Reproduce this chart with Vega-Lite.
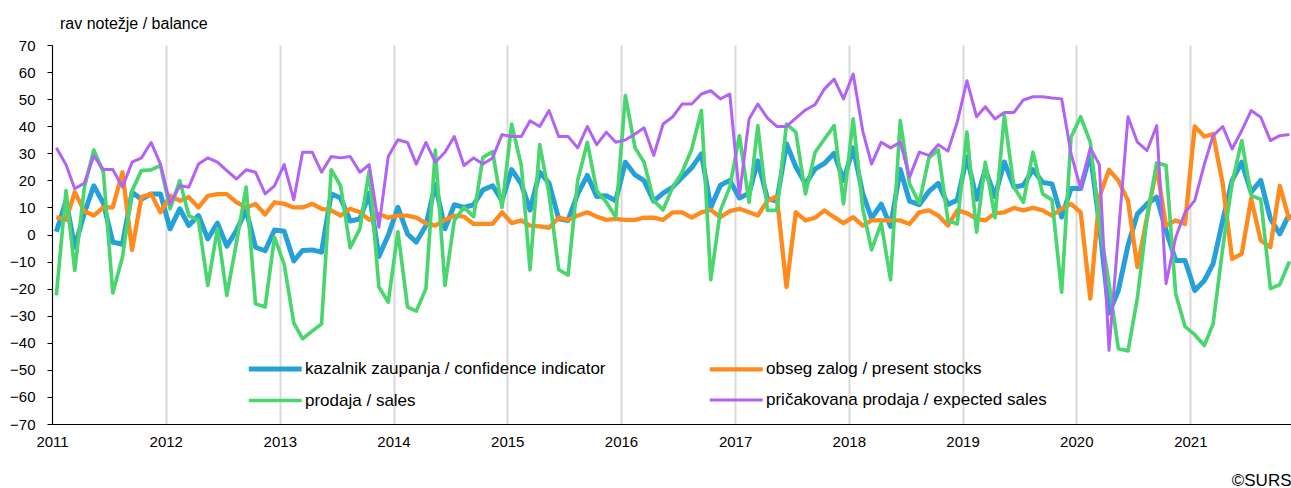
{
  "$schema": "https://vega.github.io/schema/vega-lite/v6.json",
  "width": 1239,
  "height": 379,
  "autosize": {"type": "none"},
  "padding": {"left": 52, "top": 45, "right": 0, "bottom": 64},
  "background": "#ffffff",
  "title": {"text": "rav notežje / balance", "anchor": "start", "frame": "group", "orient": "top", "offset": -7, "dx": 8, "fontSize": 16, "fontWeight": "normal", "font": "Liberation Sans", "color": "#000000", "baseline": "alphabetic"},
  "config": {"view": {"stroke": null}, "font": "Liberation Sans"},
  "data": {"values": [
    {"d":"2011-01-15","b":1,"o":6.4,"g":-22.5,"p":32},
    {"d":"2011-02-15","b":12.5,"o":5.4,"g":16.2,"p":25.8},
    {"d":"2011-03-15","b":-4.7,"o":15.6,"g":-13.3,"p":16.9},
    {"d":"2011-04-15","b":8,"o":8.6,"g":17.5,"p":19},
    {"d":"2011-05-15","b":18,"o":7,"g":31.2,"p":29},
    {"d":"2011-06-15","b":11.5,"o":10,"g":23,"p":24},
    {"d":"2011-07-15","b":-2.8,"o":10,"g":-21.6,"p":24},
    {"d":"2011-08-15","b":-3.6,"o":23,"g":-8.4,"p":17.5},
    {"d":"2011-09-15","b":15.6,"o":-5.7,"g":16.2,"p":26.7},
    {"d":"2011-10-15","b":13,"o":13.8,"g":23.6,"p":28.3},
    {"d":"2011-11-15","b":15,"o":15,"g":23.9,"p":34},
    {"d":"2011-12-15","b":15,"o":8.2,"g":25.5,"p":26},
    {"d":"2012-01-15","b":2.1,"o":14.3,"g":9.5,"p":11.3},
    {"d":"2012-02-15","b":9.5,"o":12.5,"g":19.9,"p":18},
    {"d":"2012-03-15","b":3.3,"o":13.8,"g":7,"p":17.5},
    {"d":"2012-04-15","b":7,"o":10,"g":5.2,"p":26},
    {"d":"2012-05-15","b":-1.6,"o":14.3,"g":-18.8,"p":28.3},
    {"d":"2012-06-15","b":4.2,"o":14.9,"g":2.1,"p":26.7},
    {"d":"2012-07-15","b":-4.3,"o":14.9,"g":-22.5,"p":23.6},
    {"d":"2012-08-15","b":1.5,"o":11.9,"g":-3,"p":20.5},
    {"d":"2012-09-15","b":9,"o":10,"g":17.5,"p":23.9},
    {"d":"2012-10-15","b":-4.7,"o":11.3,"g":-25.6,"p":23},
    {"d":"2012-11-15","b":-6,"o":7.4,"g":-26.8,"p":15},
    {"d":"2012-12-15","b":1.7,"o":11.9,"g":-1,"p":18},
    {"d":"2013-01-15","b":1.2,"o":11.3,"g":-11,"p":25.8},
    {"d":"2013-02-15","b":-9.8,"o":10,"g":-32.7,"p":12.8},
    {"d":"2013-03-15","b":-5.9,"o":10,"g":-38.5,"p":30.4},
    {"d":"2013-04-15","b":-5.7,"o":11.3,"g":-35.7,"p":30.4},
    {"d":"2013-05-15","b":-6.5,"o":9.5,"g":-33,"p":23},
    {"d":"2013-06-15","b":15,"o":8.9,"g":23.9,"p":28.8},
    {"d":"2013-07-15","b":13.5,"o":7,"g":18,"p":28.3},
    {"d":"2013-08-15","b":5,"o":9.5,"g":-4.9,"p":28.8},
    {"d":"2013-09-15","b":5.7,"o":8.2,"g":2.1,"p":23},
    {"d":"2013-10-15","b":15.2,"o":5.4,"g":23.6,"p":25.8},
    {"d":"2013-11-15","b":-8.1,"o":7.6,"g":-19.4,"p":2.7},
    {"d":"2013-12-15","b":-0.3,"o":6.2,"g":-25,"p":28.8},
    {"d":"2014-01-15","b":10,"o":7,"g":1,"p":35},
    {"d":"2014-02-15","b":0.2,"o":7,"g":-26.8,"p":34},
    {"d":"2014-03-15","b":-2.8,"o":6.2,"g":-28.3,"p":26},
    {"d":"2014-04-15","b":3.3,"o":4.2,"g":-20,"p":34},
    {"d":"2014-05-15","b":18.5,"o":3.3,"g":31.2,"p":26.7},
    {"d":"2014-06-15","b":2.1,"o":5.4,"g":-18.8,"p":30.4},
    {"d":"2014-07-15","b":11,"o":7,"g":5.2,"p":36.2},
    {"d":"2014-08-15","b":10,"o":6.6,"g":10,"p":25.5},
    {"d":"2014-09-15","b":11,"o":3.9,"g":6.6,"p":28.3},
    {"d":"2014-10-15","b":16.5,"o":3.9,"g":28.5,"p":26},
    {"d":"2014-11-15","b":18,"o":3.9,"g":30.6,"p":28.3},
    {"d":"2014-12-15","b":12.5,"o":8.2,"g":10,"p":36.9},
    {"d":"2015-01-15","b":24,"o":4.2,"g":40.8,"p":36.2},
    {"d":"2015-02-15","b":18.7,"o":5.2,"g":25.5,"p":36.2},
    {"d":"2015-03-15","b":9,"o":3.3,"g":-13,"p":42},
    {"d":"2015-04-15","b":23,"o":3,"g":33.2,"p":39.9},
    {"d":"2015-05-15","b":19,"o":2.5,"g":15,"p":45.8},
    {"d":"2015-06-15","b":5.8,"o":6.2,"g":-13,"p":36.2},
    {"d":"2015-07-15","b":5.2,"o":5.4,"g":-15,"p":36.2},
    {"d":"2015-08-15","b":15,"o":7,"g":20,"p":32},
    {"d":"2015-09-15","b":21.8,"o":8.2,"g":34,"p":39.9},
    {"d":"2015-10-15","b":14,"o":6.6,"g":16.2,"p":33.2},
    {"d":"2015-11-15","b":14.3,"o":5.4,"g":11.9,"p":37.8},
    {"d":"2015-12-15","b":12.5,"o":5.8,"g":6.4,"p":34.1},
    {"d":"2016-01-15","b":26.7,"o":5.4,"g":51.3,"p":34.9},
    {"d":"2016-02-15","b":22,"o":5.4,"g":32,"p":37.1},
    {"d":"2016-03-15","b":19.9,"o":6.2,"g":26.7,"p":39.4},
    {"d":"2016-04-15","b":12.3,"o":6.2,"g":12.5,"p":29.2},
    {"d":"2016-05-15","b":15.3,"o":5.4,"g":9.1,"p":40.8},
    {"d":"2016-06-15","b":17.5,"o":8.2,"g":17.5,"p":43.5},
    {"d":"2016-07-15","b":21.1,"o":8.2,"g":23,"p":48.2},
    {"d":"2016-08-15","b":24.7,"o":6.2,"g":31.6,"p":48.2},
    {"d":"2016-09-15","b":29.8,"o":8.2,"g":45.8,"p":51.9},
    {"d":"2016-10-15","b":10,"o":9.1,"g":-16.7,"p":53.1},
    {"d":"2016-11-15","b":18.2,"o":6.4,"g":8.9,"p":50.1},
    {"d":"2016-12-15","b":20,"o":8.6,"g":17.5,"p":51.9},
    {"d":"2017-01-15","b":13.5,"o":9.5,"g":36.5,"p":14.4},
    {"d":"2017-02-15","b":15.2,"o":8.2,"g":11.9,"p":42.7},
    {"d":"2017-03-15","b":27.2,"o":7,"g":40.2,"p":48.2},
    {"d":"2017-04-15","b":13.2,"o":12.5,"g":8.9,"p":43},
    {"d":"2017-05-15","b":12.3,"o":14,"g":8.9,"p":39.9},
    {"d":"2017-06-15","b":33.5,"o":-19.4,"g":40.8,"p":39.9},
    {"d":"2017-07-15","b":25,"o":8.2,"g":37.8,"p":43},
    {"d":"2017-08-15","b":18.7,"o":5.2,"g":15,"p":46},
    {"d":"2017-09-15","b":24.2,"o":6.2,"g":30.4,"p":48},
    {"d":"2017-10-15","b":26.3,"o":8.9,"g":35.3,"p":53.8},
    {"d":"2017-11-15","b":30,"o":6.4,"g":40.2,"p":57.4},
    {"d":"2017-12-15","b":20,"o":4.2,"g":11.3,"p":50.1},
    {"d":"2018-01-15","b":32,"o":6.4,"g":42.7,"p":59.3},
    {"d":"2018-02-15","b":15,"o":3.3,"g":9.5,"p":38.1},
    {"d":"2018-03-15","b":6,"o":5.2,"g":-5.7,"p":26},
    {"d":"2018-04-15","b":11.2,"o":5.2,"g":4.2,"p":34.1},
    {"d":"2018-05-15","b":3,"o":5.2,"g":-16.7,"p":32},
    {"d":"2018-06-15","b":24,"o":5.2,"g":42.1,"p":34.1},
    {"d":"2018-07-15","b":12.3,"o":3.9,"g":18.7,"p":21.2},
    {"d":"2018-08-15","b":11,"o":8.2,"g":11.6,"p":30.4},
    {"d":"2018-09-15","b":15.9,"o":8.9,"g":28.3,"p":29.2},
    {"d":"2018-10-15","b":18.9,"o":7,"g":31.2,"p":33.2},
    {"d":"2018-11-15","b":11.1,"o":3.3,"g":5.2,"p":30.8},
    {"d":"2018-12-15","b":12.7,"o":8.9,"g":3.9,"p":41.5},
    {"d":"2019-01-15","b":28.7,"o":7.9,"g":37.8,"p":56.8},
    {"d":"2019-02-15","b":13,"o":5.8,"g":0.9,"p":43.5},
    {"d":"2019-03-15","b":24,"o":5.2,"g":26.7,"p":47.2},
    {"d":"2019-04-15","b":14,"o":7.9,"g":6.2,"p":42.7},
    {"d":"2019-05-15","b":26.8,"o":8.2,"g":43.9,"p":45.1},
    {"d":"2019-06-15","b":17.5,"o":9.8,"g":17.5,"p":45.1},
    {"d":"2019-07-15","b":18.2,"o":8.9,"g":11.9,"p":49.7},
    {"d":"2019-08-15","b":24,"o":9.8,"g":30.4,"p":50.9},
    {"d":"2019-09-15","b":19.2,"o":8.9,"g":15,"p":50.9},
    {"d":"2019-10-15","b":18.7,"o":7,"g":12.8,"p":50.4},
    {"d":"2019-11-15","b":6.4,"o":9.5,"g":-21.3,"p":50.1},
    {"d":"2019-12-15","b":17,"o":11.3,"g":35.9,"p":30},
    {"d":"2020-01-15","b":17,"o":8.2,"g":43.5,"p":16.9},
    {"d":"2020-02-15","b":30,"o":-23.7,"g":34,"p":32},
    {"d":"2020-03-15","b":4,"o":13.8,"g":4,"p":25.8},
    {"d":"2020-04-15","b":-29,"o":23.9,"g":-18,"p":-42.8},
    {"d":"2020-05-15","b":-20.7,"o":19.9,"g":-42.2,"p":0},
    {"d":"2020-06-15","b":-4,"o":12.5,"g":-43,"p":43.5},
    {"d":"2020-07-15","b":7.6,"o":-12,"g":-23.5,"p":34.1},
    {"d":"2020-08-15","b":11.3,"o":6.4,"g":6,"p":31},
    {"d":"2020-09-15","b":13.8,"o":24.8,"g":26.5,"p":40.2},
    {"d":"2020-10-15","b":1.5,"o":3.3,"g":25.5,"p":-18.2},
    {"d":"2020-11-15","b":-9.6,"o":5.2,"g":-22,"p":-1},
    {"d":"2020-12-15","b":-9.6,"o":3.9,"g":-34,"p":8.2},
    {"d":"2021-01-15","b":-20.7,"o":39.9,"g":-37,"p":12.5},
    {"d":"2021-02-15","b":-17,"o":36.2,"g":-41,"p":26},
    {"d":"2021-03-15","b":-10.8,"o":37.1,"g":-33,"p":36.5},
    {"d":"2021-04-15","b":5.2,"o":18.7,"g":-5,"p":39.9},
    {"d":"2021-05-15","b":20,"o":-9,"g":19,"p":31.6},
    {"d":"2021-06-15","b":26.7,"o":-7.1,"g":34.7,"p":38.4},
    {"d":"2021-07-15","b":15.6,"o":13.2,"g":14.4,"p":45.8},
    {"d":"2021-08-15","b":20,"o":-2.2,"g":13,"p":43.3},
    {"d":"2021-09-15","b":5.8,"o":-4.7,"g":-20,"p":34.7},
    {"d":"2021-10-15","b":0.2,"o":18,"g":-18.5,"p":36.5},
    {"d":"2021-11-15","b":7.6,"o":5.2,"g":-10,"p":36.9}
  ]},
  "transform": [{"fold": ["b", "o", "g", "p"], "as": ["s", "v"]}],
  "mark": {"type": "line", "strokeJoin": "round", "strokeCap": "butt"},
  "encoding": {
    "x": {
      "field": "d", "type": "temporal",
      "scale": {"type": "utc", "domain": [{"year": 2011, "month": 1, "date": 1, "utc": true}, {"year": 2021, "month": 11, "date": 20, "utc": true}]},
      "axis": {
        "format": "%Y", "tickCount": {"interval": "year", "step": 1},
        "grid": true, "gridColor": "#d9d9d9", "gridWidth": 2,
        "domain": true, "domainColor": "#000000", "domainWidth": 1,
        "ticks": false,
        "labelFontSize": 15, "labelColor": "#000000", "labelPadding": 10, "labelFlush": false, "labelOverlap": false, "labelFont": "Liberation Sans",
        "title": "©SURS", "titleAnchor": "end", "titleAlign": "right", "titleX": 1239, "titleY": 56, "titleBaseline": "middle",
        "titleFontSize": 17, "titleFontWeight": "normal", "titleColor": "#000000", "titleFont": "Liberation Sans"
      }
    },
    "y": {
      "field": "v", "type": "quantitative",
      "scale": {"domain": [-70, 70], "nice": false},
      "axis": {
        "title": null, "values": [-70, -60, -50, -40, -30, -20, -10, 0, 10, 20, 30, 40, 50, 60, 70],
        "grid": false, "domainColor": "#000000", "domainWidth": 1,
        "tickColor": "#000000", "tickSize": 5, "tickWidth": 1,
        "labelFontSize": 15, "labelColor": "#000000", "labelPadding": 12, "labelFont": "Liberation Sans"
      }
    },
    "color": {
      "field": "s", "type": "nominal",
      "scale": {"domain": ["b", "o", "g", "p"], "range": ["#26A0D8", "#FF8A1E", "#49D66F", "#B262F5"]},
      "legend": {
        "orient": "none", "legendX": 194, "legendY": 308, "direction": "horizontal", "columns": 2,
        "title": null, "symbolType": "M-1,0H3", "symbolSize": 700,
        "labelFontSize": 17, "labelColor": "#000000", "labelFont": "Liberation Sans", "labelLimit": 600,
        "labelOffset": 27, "columnPadding": 95, "rowPadding": 6, "padding": 0,
        "labelExpr": "datum.label == 'b' ? 'kazalnik zaupanja / confidence indicator' : datum.label == 'o' ? 'obseg zalog / present stocks' : datum.label == 'g' ? 'prodaja / sales' : 'pričakovana prodaja / expected sales'"
      }
    },
    "strokeWidth": {
      "field": "s", "type": "nominal",
      "scale": {"domain": ["b", "o", "g", "p"], "range": [5, 3, 3, 3]}
    }
  }
}
